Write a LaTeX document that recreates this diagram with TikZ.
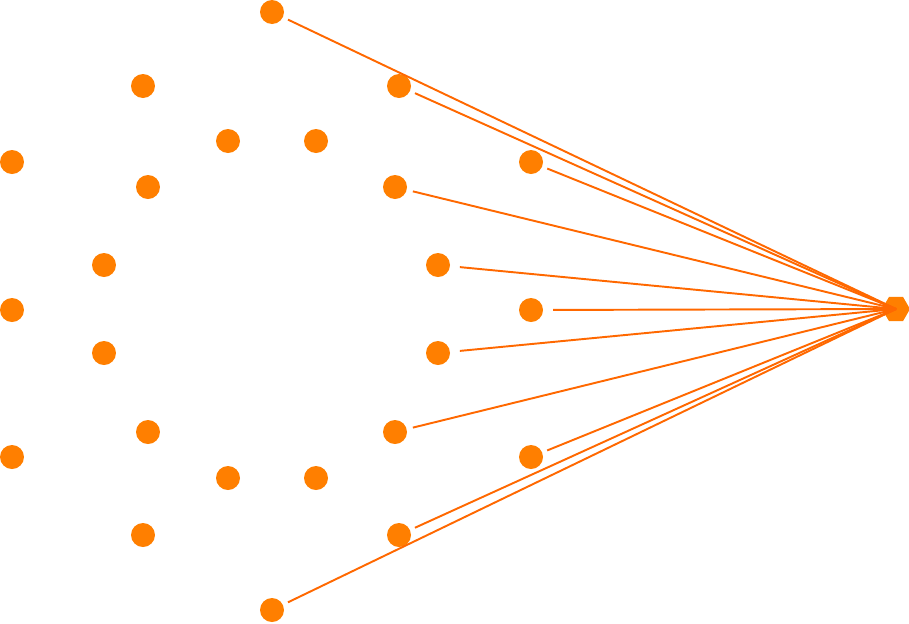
\documentclass[tikz,border=0pt]{standalone}
\usepackage{tikz}
\usetikzlibrary{shapes}
\definecolor{ornge}{RGB}{255,127,0}
\definecolor{spokecol}{RGB}{255,104,0}
\tikzset{
  dot/.style={circle,fill=ornge,minimum size=0.48cm,inner sep=0pt,outer sep=0pt},
  hub/.style={regular polygon,regular polygon sides=6,fill=ornge,minimum size=0.56cm,inner sep=0pt},
  spoke/.style={draw=spokecol,line width=1.1pt}
}
\begin{document}
\begin{tikzpicture}[x=0.02cm,y=-0.02cm]
    \useasboundingbox (0,0) rectangle (909,623);
    \foreach \n/\x/\y in {l1/12/162, l2/12/310, l3/12/457,
        a1/143/86, a2/148/187, a3/104/265, a4/104/353, a5/148/432, a6/143/535,
        b1/228/141, b2/316/141, b3/228/478, b4/316/478,
        t/272/12, s/272/610,
        c1/399/86, c2/395/187, c3/438/265, c4/438/353, c5/395/432, c6/399/535,
        r1/531/162, r2/531/310, r3/531/457} {
      \node[dot] (\n) at (\x,\y) {};
    }
    \node[hub] (hub) at (896,309) {};
    \foreach \n/\g in {t/0.354cm, c1/0.35cm, r1/0.35cm, c2/0.368cm, c3/0.44cm, r2/0.44cm,
        c4/0.44cm, c5/0.368cm, r3/0.35cm, c6/0.35cm, s/0.354cm} {
      \draw[spoke,shorten <=\g] (\n.center) -- (hub.center);
    }
  \end{tikzpicture}
\end{document}
